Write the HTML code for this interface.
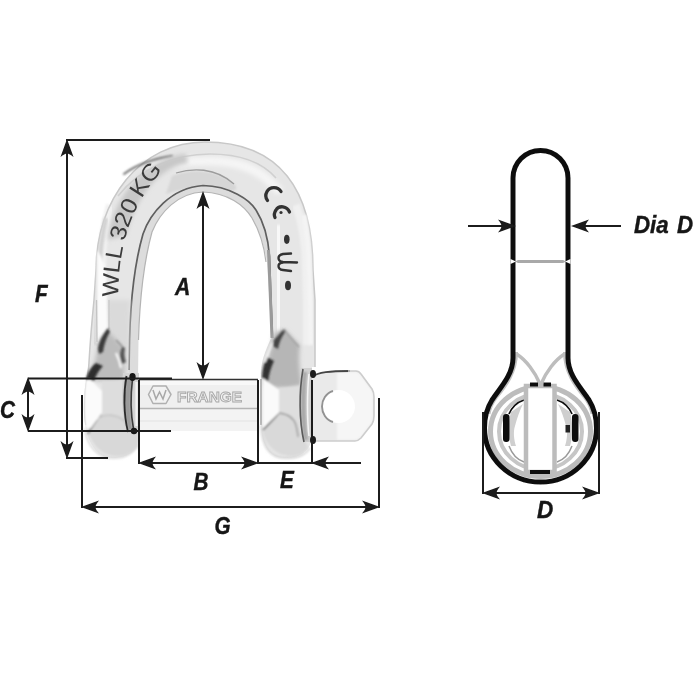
<!DOCTYPE html>
<html><head><meta charset="utf-8">
<style>
html,body{margin:0;padding:0;background:#fff;width:700px;height:700px;overflow:hidden}
svg{display:block}
.lt{font-family:"Liberation Sans",sans-serif;font-weight:bold;font-style:italic;font-size:23px;fill:#141414;stroke:#141414;stroke-width:0.4}
.eng{font-family:"Liberation Sans",sans-serif;font-size:23px;fill:#3a3a3a}
</style></head><body>
<svg width="700" height="700" viewBox="0 0 700 700">
<defs>
  <filter id="gbl" x="0" y="0" width="700" height="700" filterUnits="userSpaceOnUse"><feGaussianBlur stdDeviation="0.45"/></filter>
  <filter id="bl1" x="-20%" y="-20%" width="140%" height="140%"><feGaussianBlur stdDeviation="0.9"/></filter>
  <filter id="bl2" x="-30%" y="-30%" width="160%" height="160%"><feGaussianBlur stdDeviation="2.2"/></filter>
  <path id="ah" d="M1,0 L-17,-6.5 Q-13.5,-2.5 -13.5,0 Q-13.5,2.5 -17,6.5 Z" fill="#1a1a1a"/>
  <path id="ahs" d="M0,0 L-14,-5.5 L-10.5,0 L-14,5.5 Z" fill="#111"/>
  <path id="wllpath" d="M118,306 C118,256 124,206 175,157"/>
  <linearGradient id="pinG" x1="0" y1="0" x2="0" y2="1">
    <stop offset="0" stop-color="#e6e6e6"/>
    <stop offset="0.55" stop-color="#eeeeee"/>
    <stop offset="0.6" stop-color="#d0d0d0"/>
    <stop offset="0.65" stop-color="#f2f2f2"/>
    <stop offset="1" stop-color="#f6f6f6"/>
  </linearGradient>
</defs>
<rect width="700" height="700" fill="#fff"/>
<g filter="url(#gbl)">

<!-- ========== SHACKLE (left view) ========== -->
<g id="shackle">
  <!-- silhouette -->
  <path d="M113,458 C96,458 84,440 84,410 C84,390 87,375 89,362 C90,345 92,320 94,300 L96,270 C96,200 140,142 205,142 C280,142 313,190 313,270 L315,300 L315,367 L312,367 L312,440 C308,452 300,458 285,458 C270,458 262,447 261,425 L261,379 L139,379 L139,432 C139,449 130,458 113,458 Z" fill="#e6e6e6"/>
  <!-- outer highlight band -->
  <path d="M100,345 L101,300 L102,270 C102,240 105,222 110,205" fill="none" stroke="#f1f1f1" stroke-width="8" filter="url(#bl1)"/>
  <path d="M307,345 L307,300 L306,270 C306,240 302,222 296,205" fill="none" stroke="#f0f0f0" stroke-width="8" filter="url(#bl1)"/>
  <path d="M150,170 C170,162 190,161 210,161 C240,161 262,170 280,192" fill="none" stroke="#f5f5f5" stroke-width="9" filter="url(#bl2)"/>
  <!-- outer edge -->
  <path d="M86,425 C84,415 84,395 87,378 C88,372 89,367 89,362 C90,345 92,320 94,300 L96,270 C96,200 140,142 205,142 C280,142 313,190 313,270 L315,300 L315,367" fill="none" stroke="#c8c8c8" stroke-width="1.5"/>
  <path d="M138,444 C134,452 126,458 113,458 C98,458 87,446 85,428" fill="none" stroke="#dadada" stroke-width="2" filter="url(#bl1)"/>
  <path d="M272,338 C267,350 262,360 261,374 L261,425" fill="none" stroke="#a0a0a0" stroke-width="1.5"/>
  <path d="M261,425 C262,447 270,458 285,458 C300,458 306,454 310,448" fill="none" stroke="#d6d6d6" stroke-width="2" filter="url(#bl1)"/>
  <!-- leg outer rim bands -->
  <path d="M106,218 C102,235 100,250 99.5,270 L98.5,300 L96,345" fill="none" stroke="#d2d2d2" stroke-width="4.5" filter="url(#bl1)"/>
  <path d="M304,215 C307,230 309,245 309.5,270 L310.5,300 L311,345" fill="none" stroke="#f4f4f4" stroke-width="5" filter="url(#bl1)"/>
  <!-- outer bevel line (top) -->
  <path d="M118,196 C140,168 175,154 210,154 C240,154 262,162 276,178" fill="none" stroke="#d0d0d0" stroke-width="1.6"/>
  <path d="M124,174 C136,165 152,159 172,156" fill="none" stroke="#6e6e6e" stroke-width="2" stroke-linecap="round" filter="url(#bl1)"/>
  <!-- engraved flat darker band -->
  <path d="M108,240 C112,205 132,175 165,159 C172,156 178,155 186,154 L188,163 C162,168 140,188 126,235 Z" fill="#c8c8c8" filter="url(#bl2)"/>
  <!-- upper inner band -->
  <path d="M172,176 C190,169 215,168 234,184 C240,190 234,192 224,190 C205,186 185,187 166,194 Z" fill="#d6d6d6" filter="url(#bl1)"/>
  <path d="M176,173 C192,168 215,167 234,184" fill="none" stroke="#9c9c9c" stroke-width="1.3"/>
  <!-- inner bevel band -->
  <path d="M129,379 L129,370 L129.5,340 C130.5,300 135,262 143,234 C150,214 170,188 203,185.5 C230,186 250,200 256,210 C263,221 268,236 269.5,256 L271,300 L272.5,338 L272,379 Z" fill="#dcdcdc"/>
  <!-- opening -->
  <path d="M138,379 L138.5,340 C139.5,305 143,265 152,232 C160,212 178,193 203,192 C228,193 244,205 252,218 C259,230 264,245 267,262 L269.5,300 L271,338 C266,350 261,360 261,374 L261,379 Z" fill="#fff"/>
  <path d="M138.5,340 C139.5,305 143,265 152,232 C160,212 178,193 203,192 C228,193 244,205 252,218 C259,230 264,245 266,262" fill="none" stroke="#b4b4b4" stroke-width="1.2"/>
  <!-- inner dark edge -->
  <path d="M129,370 L129.5,340 C130.5,300 135,262 143,234 C150,214 170,188 203,185.5 C230,186 250,200 256,210 C263,221 268,236 269.5,256 L271,300 L272.5,338" fill="none" stroke="#5e5e5e" stroke-width="1.7"/>
  <path d="M268.5,250 L270.5,300 L272,338" fill="none" stroke="#9a9a9a" stroke-width="3"/>
  <path d="M278,225 L278.5,300 L279,332" fill="none" stroke="#f8f8f8" stroke-width="10" filter="url(#bl1)"/>
  <!-- ===== left eye shading ===== -->
  <path d="M107,300 L130,300 L129,372 L104,372 Z" fill="#dadada" filter="url(#bl2)"/>
  <path d="M97,250 C101,256 105,262 106,275 C107,295 107.5,315 108,329 C104,334 101,339 99.5,343 L96.5,343 Z" fill="#fbfbfb" filter="url(#bl1)"/>
  <path d="M99,341 C103,335 108,331 112,335 C116,340 120,345 124,349 C122,360 123,370 126,379 C114,382 102,382 90,379 C94,366 97,352 99,341 Z" fill="#bcbcbc" filter="url(#bl2)"/>
  <path d="M96.5,300 L97,342" fill="none" stroke="#c4c4c4" stroke-width="1.3"/>
  <path d="M109,300 L109,329" fill="none" stroke="#c8c8c8" stroke-width="1.3"/>
  <g filter="url(#bl1)">
    <path d="M108,328 C103,334 99,341 98,349 L99,354 L103,352 C104,345 106,338 110,332 Z" fill="#3a3a3a"/>
    <path d="M116,340 C119,343 122,346 124,349" fill="none" stroke="#888" stroke-width="1.3"/>
    <path d="M122,347 C119.5,353 119.5,358 122,364 L126,362 C124,357 124,352 125,348 Z" fill="#555"/>
    <path d="M116,353 C118,357 120,362 121,368" fill="none" stroke="#fafafa" stroke-width="2.2"/>
    <path d="M96,363 C91,367 87,373 86,380 L94,381 C96,375 99,370 103,366 Z" fill="#2e2e2e"/>
    <path d="M102,381 L124,381 C127,392 127,414 124,428 L100,427 Z" fill="#dddddd"/>
    <path d="M88,432 C94,448 104,456 117,456 C128,456 135,451 138,445 L138,430 C130,420 118,414 106,415 C98,418 92,424 88,432 Z" fill="#d8d8d8"/>
    <path d="M101,414 C97,420 92,426 88,434" fill="none" stroke="#6e6e6e" stroke-width="1.4"/>
    <path d="M96,420 C104,413 118,413 128,424" fill="none" stroke="#c2c2c2" stroke-width="1.3"/>
    <path d="M86,380 L90,379 L102,391 L102,413 L91,428 L86,428 C84,415 84,395 86,380 Z" fill="#fbfbfb"/>
  </g>

  <!-- ===== right eye shading ===== -->
  <path d="M274,334 C278,331 282,329 285,330 C291,336 296,341 300,346 C298,360 300,372 302,385 C290,389 276,389 264,385 C266,370 270,350 274,334 Z" fill="#b6b6b6" filter="url(#bl2)"/>
  <g filter="url(#bl1)">
    <path d="M284,329 C280,333 277,337 274,340 L273,346 L278,349 C279,343 281,337 286,331 Z" fill="#444"/>
    <path d="M284,330 C289,336 294,342 299,347" fill="none" stroke="#9a9a9a" stroke-width="1.3"/>
    <path d="M267,357 C264,363 262,370 262,378 L268,382 C269,374 271,367 274,361 Z" fill="#333"/>
    <path d="M272,343 C270,349 267,355 265,362" fill="none" stroke="#fafafa" stroke-width="1.8"/>
    <path d="M279,388 L300,386 C302,400 302,418 300,432 L279,430 Z" fill="#dedede"/>
    <path d="M263,432 C268,450 280,456 292,456 C300,456 305,452 308,447 L300,430 C295,420 285,414 279,413 C272,418 266,424 263,432 Z" fill="#d9d9d9"/>
    <path d="M279,413 C273,420 267,426 263,430" fill="none" stroke="#6a6a6a" stroke-width="1.6"/>
    <path d="M279,413 C287,414 294,418 296,425 C297,430 298,434 298,437" fill="none" stroke="#9a9a9a" stroke-width="1.4"/>
    <path d="M263,378 L279,390 L279,413 L263,428 Z" fill="#fafafa"/>
  </g>

  <!-- engravings WLL 320 KG -->
  <text class="eng"><textPath href="#wllpath" startOffset="9" textLength="138" lengthAdjust="spacingAndGlyphs">WLL 320 KG</textPath></text>
  <!-- CE marks -->
  <g fill="none" stroke="#333" stroke-width="3.3" stroke-linecap="round">
    <path d="M281,191.5 C278,186.5 270,186 267,191.5 C265,195 266,198.5 267.5,200.5"/>
    <path d="M289.5,212 C287,206 279,205 276,210 C274,213 274,215.5 275,217.5"/>
    <path d="M291,253.5 L283,254 Q278.5,255 278.5,258 Q278.5,261.5 283,262 L297,262.5 M283,262.5 Q278.5,263 278.5,266 Q278.5,269.5 283,270 L291,271" stroke-width="2.4"/>
  </g>
  <circle cx="281" cy="212.5" r="1.6" fill="#333"/>
  <ellipse cx="286.8" cy="239.3" rx="2.8" ry="4.6" fill="#333"/>
  <ellipse cx="288" cy="285.5" rx="3" ry="4.8" fill="#333"/>

  <!-- pin -->
  <rect x="139" y="379" width="119" height="52" fill="#efefef"/>
  <rect x="139" y="381" width="119" height="4" fill="#f8f8f8"/>
  <rect x="139" y="409" width="119" height="22" fill="#f3f3f3"/>
  <line x1="139" y1="379.5" x2="258" y2="379.5" stroke="#333" stroke-width="1.6"/>
  <line x1="140" y1="408.5" x2="257" y2="408.5" stroke="#b4b4b4" stroke-width="1.6"/>
  <line x1="140" y1="421" x2="257" y2="421" stroke="#e4e4e4" stroke-width="1.2"/>
  <text x="177" y="402" font-family="Liberation Sans,sans-serif" font-size="14.5" font-weight="bold" fill="#f2f2f2" stroke="#a8a8a8" stroke-width="0.9" textLength="65" lengthAdjust="spacingAndGlyphs">FRANGE</text>
  <path d="M153,386 L166,386 L171,394.5 L166,403.5 L153,403.5 L148.5,394.5 Z" fill="#f2f2f2" stroke="#b0b0b0" stroke-width="1.5" stroke-linejoin="round"/>
  <path d="M153,390 L156,399 L159.5,392 L163,399 L166,390" fill="none" stroke="#a8a8a8" stroke-width="1.5"/>

  <!-- left collar -->
  <path d="M123,373 L139,373 L139,433 L127,433 C122,415 121,390 123,373 Z" fill="#d4d4d4"/>
  <path d="M126,378 C123,395 123,414 128,430 L133,430 C130,414 130,395 133,378 Z" fill="#9a9a9a" filter="url(#bl1)"/>
  <path d="M126.5,376 C123.5,392 123.5,414 128,432" fill="none" stroke="#2a2a2a" stroke-width="1.8"/>
  <path d="M132.5,379 C130.5,395 130.5,413 133.5,429" fill="none" stroke="#3a3a3a" stroke-width="1.6"/>
  <path d="M136.5,382 L136.5,426" stroke="#f4f4f4" stroke-width="2.2"/>
  <ellipse cx="132.5" cy="377" rx="3.2" ry="4" fill="#151515"/>
  <ellipse cx="134" cy="431" rx="3.2" ry="3.2" fill="#151515"/>
  <!-- right collar -->
  <path d="M301,368 L312,368 L312,442 L304,442 C298,420 298,390 301,368 Z" fill="#d0d0d0"/>
  <path d="M303,372 C300,392 300,420 304,440 L308,440 C305,420 305,392 307,372 Z" fill="#a8a8a8" filter="url(#bl1)"/>
  <path d="M303,369 C299,392 299,420 304,442" fill="none" stroke="#5a5a5a" stroke-width="1.6"/>
  <path d="M309,374 C307,392 307,420 309,436" fill="none" stroke="#f4f4f4" stroke-width="1.5"/>

  <!-- nut -->
  <path d="M312,375 C318,372 330,371 356,371 Q359,371 361,374 L372,389 Q374,392 374,397 L374,416 Q374,421 372,424 L361,438 Q358,441 355,441 L312,441 Z" fill="#eaeaea"/>
  <path d="M337,372 L356,372 Q359,372 361,375 L371,389 Q373,392 373,397 L373,416 Q373,421 371,424 L361,437 Q358,440 355,440 L337,440 Z" fill="#f6f6f6" filter="url(#bl1)"/>
  <path d="M312,377 C318,372 330,371 350,371" fill="none" stroke="#444" stroke-width="1.8"/>
  <path d="M348,371 L356,371 Q359,371 361,374 L372,389 Q374,392 374,397 L374,416 Q374,421 372,424 L361,438 Q358,441 355,441 L312,441" fill="none" stroke="#cdcdcd" stroke-width="1.6"/>
  <circle cx="338.5" cy="406.5" r="16.5" fill="#fff"/>
  <path d="M333,391 C326,393 322,400 322,406.5 C322,413 326,420 333,422" fill="none" stroke="#929292" stroke-width="1.9"/>
  <ellipse cx="313" cy="374" rx="3" ry="4" fill="#1a1a1a"/>
  <ellipse cx="313" cy="440" rx="3" ry="4" fill="#1a1a1a"/>
</g>

<!-- ========== DIMENSION LINES (left view) ========== -->
<g stroke="#1c1c1c" stroke-width="2" fill="none">
  <line x1="67" y1="150" x2="67" y2="450"/>
  <line x1="66" y1="140" x2="210" y2="140"/>
  <line x1="66" y1="458" x2="108" y2="458"/>
  <line x1="28" y1="386" x2="28" y2="423"/>
  <line x1="28" y1="378.5" x2="172" y2="378.5"/>
  <line x1="28" y1="431" x2="171" y2="431"/>
  <line x1="203" y1="200" x2="203" y2="372"/>
  <line x1="139" y1="380" x2="139" y2="464"/>
  <line x1="258" y1="380" x2="258" y2="464"/>
  <line x1="145" y1="463" x2="252" y2="463"/>
  <line x1="312" y1="380" x2="312" y2="464"/>
  <line x1="258" y1="463" x2="361" y2="463"/>
  <line x1="82" y1="395" x2="82" y2="508"/>
  <line x1="379" y1="398" x2="379" y2="508"/>
  <line x1="88" y1="507" x2="373" y2="507"/>
</g>
<use href="#ah" transform="translate(67,140) rotate(-90)"/>
<use href="#ah" transform="translate(67,458) rotate(90)"/>
<use href="#ah" transform="translate(28,378) rotate(-90)"/>
<use href="#ah" transform="translate(28,431) rotate(90)"/>
<use href="#ah" transform="translate(203,192) rotate(-90)"/>
<use href="#ah" transform="translate(203,379) rotate(90)"/>
<use href="#ah" transform="translate(139,463) rotate(180)"/>
<use href="#ah" transform="translate(258,463)"/>
<use href="#ah" transform="translate(312,463) rotate(180)"/>
<use href="#ah" transform="translate(82,507) rotate(180)"/>
<use href="#ah" transform="translate(379,507)"/>

<text class="lt" transform="translate(35,302) scale(0.9,1.05)">F</text>
<text class="lt" transform="translate(175,294.5) scale(0.92,1.07)">A</text>
<text class="lt" transform="translate(0,418) scale(0.9,1.05)">C</text>
<text class="lt" transform="translate(193.5,489.5) scale(0.9,1.05)">B</text>
<text class="lt" transform="translate(280,487.5) scale(0.9,1.05)">E</text>
<text class="lt" transform="translate(214.5,533.5) scale(0.9,1.05)">G</text>

<!-- ========== RIGHT VIEW ========== -->
<g fill="none">
  <!-- inner gray details -->
  <path d="M516.5,352 C516.5,372 506,386 496,398 C492,403 490,408 489,414" stroke="#c2c2c2" stroke-width="3"/>
  <path d="M564.5,352 C564.5,372 575,386 585,398 C589,403 591,408 592,414" stroke="#c2c2c2" stroke-width="3"/>
  <path d="M516.5,354 C526,360 535,372 540,384" stroke="#bdbdbd" stroke-width="3.5"/>
  <path d="M564.5,354 C555,360 546,372 541,384" stroke="#bdbdbd" stroke-width="3.5"/>
  <ellipse cx="540.5" cy="431.5" rx="50" ry="45" stroke="#bcbcbc" stroke-width="5"/>
  <ellipse cx="540.5" cy="431.5" rx="41.5" ry="38" stroke="#c6c6c6" stroke-width="4"/>
  <!-- lens shapes -->
  <path d="M509,414 C512,407 518,402 524,400" stroke="#111" stroke-width="1.8"/>
  <path d="M557,400 C563,402 569,407 572,414" stroke="#111" stroke-width="1.8"/>
  <path d="M511,412 C508,422 508,436 511,446 L516,446 C514,440 513,432 515,426 C517,418 520,410 523,404 Z" fill="#cfcfcf" stroke="none"/>
  <path d="M570,412 C573,422 573,436 570,446 L565,446 C567,440 568,432 566,426 C564,418 561,410 558,404 Z" fill="#cfcfcf" stroke="none"/>
  <path d="M509,446 C512,454 518,460 524,462" stroke="#999" stroke-width="1.5"/>
  <path d="M572,446 C569,454 563,460 557,462" stroke="#999" stroke-width="1.5"/>
  <rect x="503" y="414" width="6.5" height="28" rx="3" fill="#111" stroke="none"/>
  <rect x="572" y="414" width="6.5" height="28" rx="3" fill="#111" stroke="none"/>
  <rect x="565.5" y="425" width="4.5" height="7.5" fill="#222" stroke="none"/>
  <!-- vertical pin -->
  <rect x="526" y="386" width="28.5" height="86" fill="#fff" stroke="#bcbcbc" stroke-width="4.5"/>
  <rect x="530" y="382.5" width="8" height="4" fill="#111"/>
  <rect x="543.5" y="382.5" width="7.5" height="4" fill="#111"/>
  <rect x="530" y="470" width="20" height="4" fill="#111"/>
</g>
<g fill="none" stroke="#111" stroke-width="5">
  <path d="M513,262 L513,178 A27.5,27.5 0 0 1 568,178 L568,262"/>
  <path d="M513,262 L513,358 C513,375 500,388 492,400 C487,408 484.5,418 484.5,428 A56,54 0 0 0 596.5,428 C596.5,418 594,408 589,400 C581,388 568,375 568,358 L568,262"/>
</g>
<path d="M510.5,259 L516,261.5 L510.5,264 Z M570.5,259 L565,261.5 L570.5,264 Z" fill="#fff"/>
<path d="M515,261.5 L518,260 L563,260 L566,261.5 L563,263 L518,263 Z" fill="#a9a9a9"/>
<g stroke="#1c1c1c" stroke-width="2">
  <line x1="468" y1="226" x2="505" y2="226"/>
  <line x1="580" y1="226" x2="621" y2="226"/>
  <line x1="483" y1="412" x2="483" y2="494"/>
  <line x1="599" y1="412" x2="599" y2="494"/>
  <line x1="490" y1="493" x2="592" y2="493"/>
</g>
<use href="#ah" transform="translate(515,226)"/>
<use href="#ah" transform="translate(572,226) rotate(180)"/>
<use href="#ah" transform="translate(483,493) rotate(180)"/>
<use href="#ah" transform="translate(599,493)"/>
<text class="lt" transform="translate(537,518) scale(0.98,1.05)">D</text>
<text class="lt" transform="translate(634,232.5) scale(0.97,1.05)">Dia</text>
<text class="lt" transform="translate(677,232.5) scale(0.97,1.05)">D</text>
</g>
</svg>
</body></html>
